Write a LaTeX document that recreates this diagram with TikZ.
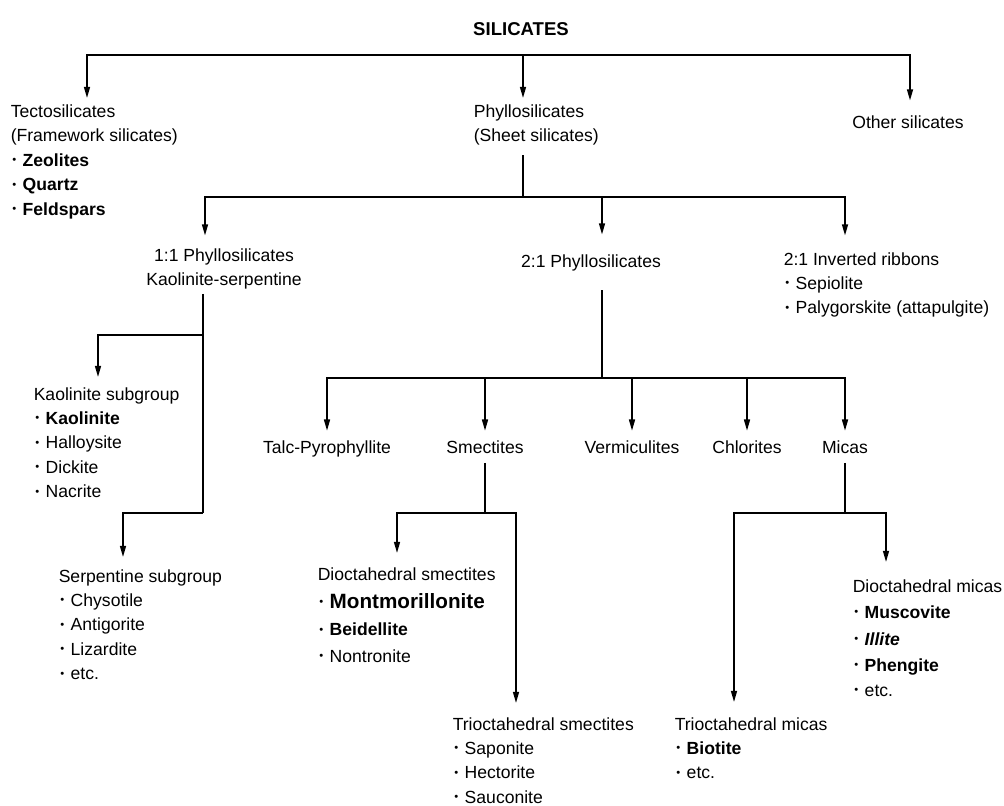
\documentclass[tikz,border=0pt]{standalone}
\usepackage{fontspec}
\setmainfont{Liberation Sans}
\usetikzlibrary{arrows.meta,calc}
\newcommand\bul{\makebox[8.5pt][l]{\hspace{1.2pt}\raisebox{2pt}{\fontsize{8}{8}\selectfont •}}}
\begin{document}
\begin{tikzpicture}[x=0.025cm, y=-0.025cm, line width=1.1pt,
  arr/.style={-{Triangle[length=0.28cm,width=0.15cm]}},
  lbl/.style={inner sep=0pt, align=left, font=\fontsize{12.5}{17.4}\selectfont},
  grp/.style={lbl, anchor=north west},
  leaf/.style={lbl, anchor=base}]
  \useasboundingbox (0,0) rectangle (1004,806);
  \node[leaf, font=\fontsize{13.2}{15}\selectfont\bfseries] (sil) at (521,35.5) {SILICATES};
  % first level
  \node[grp] (tecto) at (10,104) {Tectosilicates\\(Framework silicates)\\\bul\textbf{Zeolites}\\\bul\textbf{Quartz}\\\bul\textbf{Feldspars}};
  \node[grp] (phyl) at (473,104) {Phyllosilicates\\(Sheet silicates)};
  \node[leaf] (other) at (908,129) {Other silicates};
  % phyllosilicates
  \node[lbl, align=center, anchor=north] (onet) at (224,247.5) {1:1 Phyllosilicates\\Kaolinite-serpentine};
  \node[leaf] (twot) at (591,268) {2:1 Phyllosilicates};
  \node[grp] (ribbon) at (783,251.5) {2:1 Inverted ribbons\\\bul Sepiolite\\\bul Palygorskite (attapulgite)};
  % 1:1
  \node[grp] (kaol) at (33,386.5) {Kaolinite subgroup\\\bul\textbf{Kaolinite}\\\bul Halloysite\\\bul Dickite\\\bul Nacrite};
  \node[grp] (serp) at (58,568.5) {Serpentine subgroup\\\bul Chysotile\\\bul Antigorite\\\bul Lizardite\\\bul etc.};
  % 2:1
  \node[leaf] (talc) at (327,453) {Talc-Pyrophyllite};
  \node[leaf] (smec) at (485,453) {Smectites};
  \node[leaf] (verm) at (632,453) {Vermiculites};
  \node[leaf] (chlo) at (747,453) {Chlorites};
  \node[leaf] (mica) at (845,453) {Micas};
  \node[grp] (dsmec) at (317,566.5) {Dioctahedral smectites\\[3pt]\bul{\fontsize{14.7}{17}\selectfont\textbf{Montmorillonite}}\\[2pt]\bul\textbf{Beidellite}\\[1.5pt]\bul Nontronite};
  \node[grp] (tsmec) at (452,716.5) {Trioctahedral smectites\\\bul Saponite\\\bul Hectorite\\\bul Sauconite};
  \node[grp] (dmica) at (852,578.5) {Dioctahedral micas\\[1.5pt]\bul\textbf{Muscovite}\\[1.5pt]\bul\textbf{\itshape Illite}\\[1.5pt]\bul\textbf{Phengite}\\\bul etc.};
  \node[grp] (tmica) at (674,716.5) {Trioctahedral micas\\\bul\textbf{Biotite}\\\bul etc.};
  % junctions
  \coordinate (j0) at (523,55);
  \coordinate (j1) at (523,197);
  \coordinate (j2) at (602,378);
  \coordinate (j3) at (203,335);
  \coordinate (j4) at (203,513);
  \coordinate (j5) at (485,513);
  \coordinate (j6) at (845,513);
  % connectors
  \draw[arr] (j0) -| ($(tecto.north west)+(77,-6)$);
  \draw[arr] (j0) -- ($(phyl.north west)+(50,-6)$);
  \draw[arr] (j0) -| ($(other.north)+(2,-15)$);
  \draw (j1 |- phyl.south) ++(0,9) -- (j1);
  \draw[arr] (j1) -| ($(onet.north)+(-19,-12)$);
  \draw[arr] (j1) -| ($(twot.north)+(11,-20)$);
  \draw[arr] (j1) -| ($(ribbon.north west)+(62,-16)$);
  \draw (j4 |- onet.south) ++(0,4) -- (j4);
  \draw[arr] (j3) -| ($(kaol.north west)+(65,-9.5)$);
  \draw[arr] (j4) -| ($(serp.north west)+(65,-11.5)$);
  \draw (j2 |- twot.south) ++(0,18) -- (j2);
  \foreach \n in {talc,smec,verm,chlo,mica}
    \draw[arr, shorten >=0.22cm] (j2) -| (\n);
  \draw (j5 |- smec.south) ++(0,9) -- (j5);
  \draw[arr] (j5) -| ($(dsmec.north west)+(80,-13.5)$);
  \draw[arr] (j5) -| ($(tsmec.north west)+(64,-13.5)$);
  \draw (j6 |- mica.south) ++(0,9) -- (j6);
  \draw[arr] (j6) -| ($(dmica.north west)+(34,-16.5)$);
  \draw[arr] (j6) -| ($(tmica.north west)+(60,-14.5)$);
\end{tikzpicture}
\end{document}
